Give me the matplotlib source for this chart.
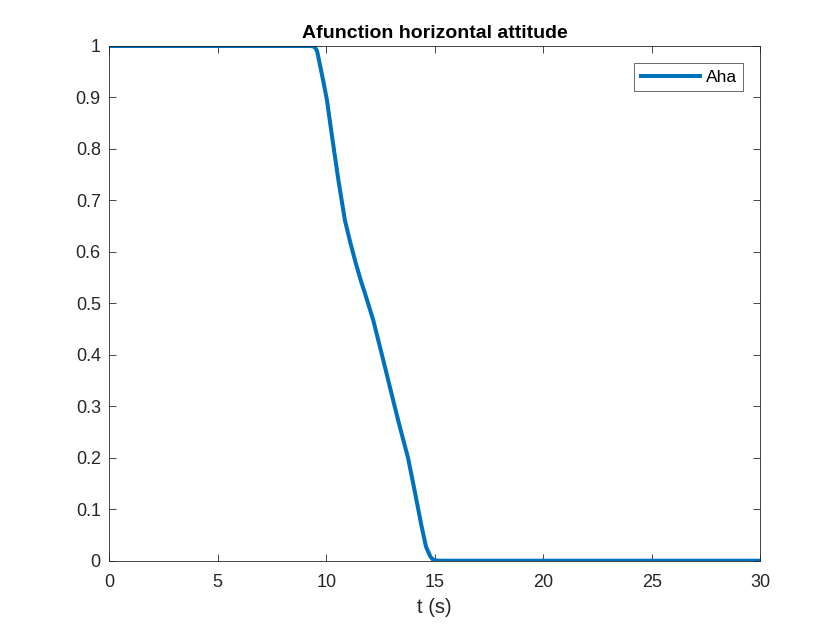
import matplotlib.pyplot as plt

# values
t = [0, 9.3, 9.48, 9.58, 9.66, 9.85, 10.03, 10.29, 10.56, 10.86, 11.1, 11.35,
     11.59, 11.79, 12.17, 12.45, 12.71, 13.09, 13.32, 13.55, 13.77, 14.08,
     14.38, 14.6, 14.8, 14.92, 15.1, 30]
aha = [1, 1, 0.998, 0.99, 0.974, 0.935, 0.896, 0.818, 0.74, 0.662, 0.62, 0.58,
       0.545, 0.519, 0.467, 0.42, 0.376, 0.311, 0.272, 0.235, 0.2, 0.135,
       0.07, 0.027, 0.008, 0.002, 0, 0]

xticks = [0, 5, 10, 15, 20, 25, 30]
yticks = [0, 0.1, 0.2, 0.3, 0.4, 0.5, 0.6, 0.7, 0.8, 0.9, 1]
yticklabels = ['0', '0.1', '0.2', '0.3', '0.4', '0.5', '0.6', '0.7', '0.8', '0.9', '1']

plt.rcParams['font.family'] = ['Liberation Sans', 'DejaVu Sans']

fig = plt.figure(figsize=(8.4, 6.3), dpi=100)
ax = fig.add_axes([0.13, 0.11, 0.775, 0.817])

ax.plot(t, aha, color='#0072BD', linewidth=2.9, label='Aha')

ax.set_xlim(0, 30)
ax.set_ylim(0, 1)
ax.set_xticks(xticks)
ax.set_yticks(yticks)
ax.set_yticklabels(yticklabels)
ax.tick_params(direction='in', top=True, right=True, labelsize=13,
               colors='#262626', length=5, width=0.6)
ax.tick_params(axis='x', pad=9.5)
ax.tick_params(axis='y', pad=6)
for s in ax.spines.values():
    s.set_linewidth(0.6)
    s.set_color('#262626')

ax.set_xlabel('t (s)', fontsize=14.5, color='#262626', labelpad=5)
ax.set_title('Afunction horizontal attitude', fontsize=14, fontweight='bold')

leg = ax.legend(loc='upper right', fontsize=12.5, fancybox=False,
                edgecolor='#262626', handlelength=3.45, handletextpad=0.3,
                borderaxespad=1.0, borderpad=0.35)
leg.get_frame().set_linewidth(0.6)

fig.savefig('out.png')
